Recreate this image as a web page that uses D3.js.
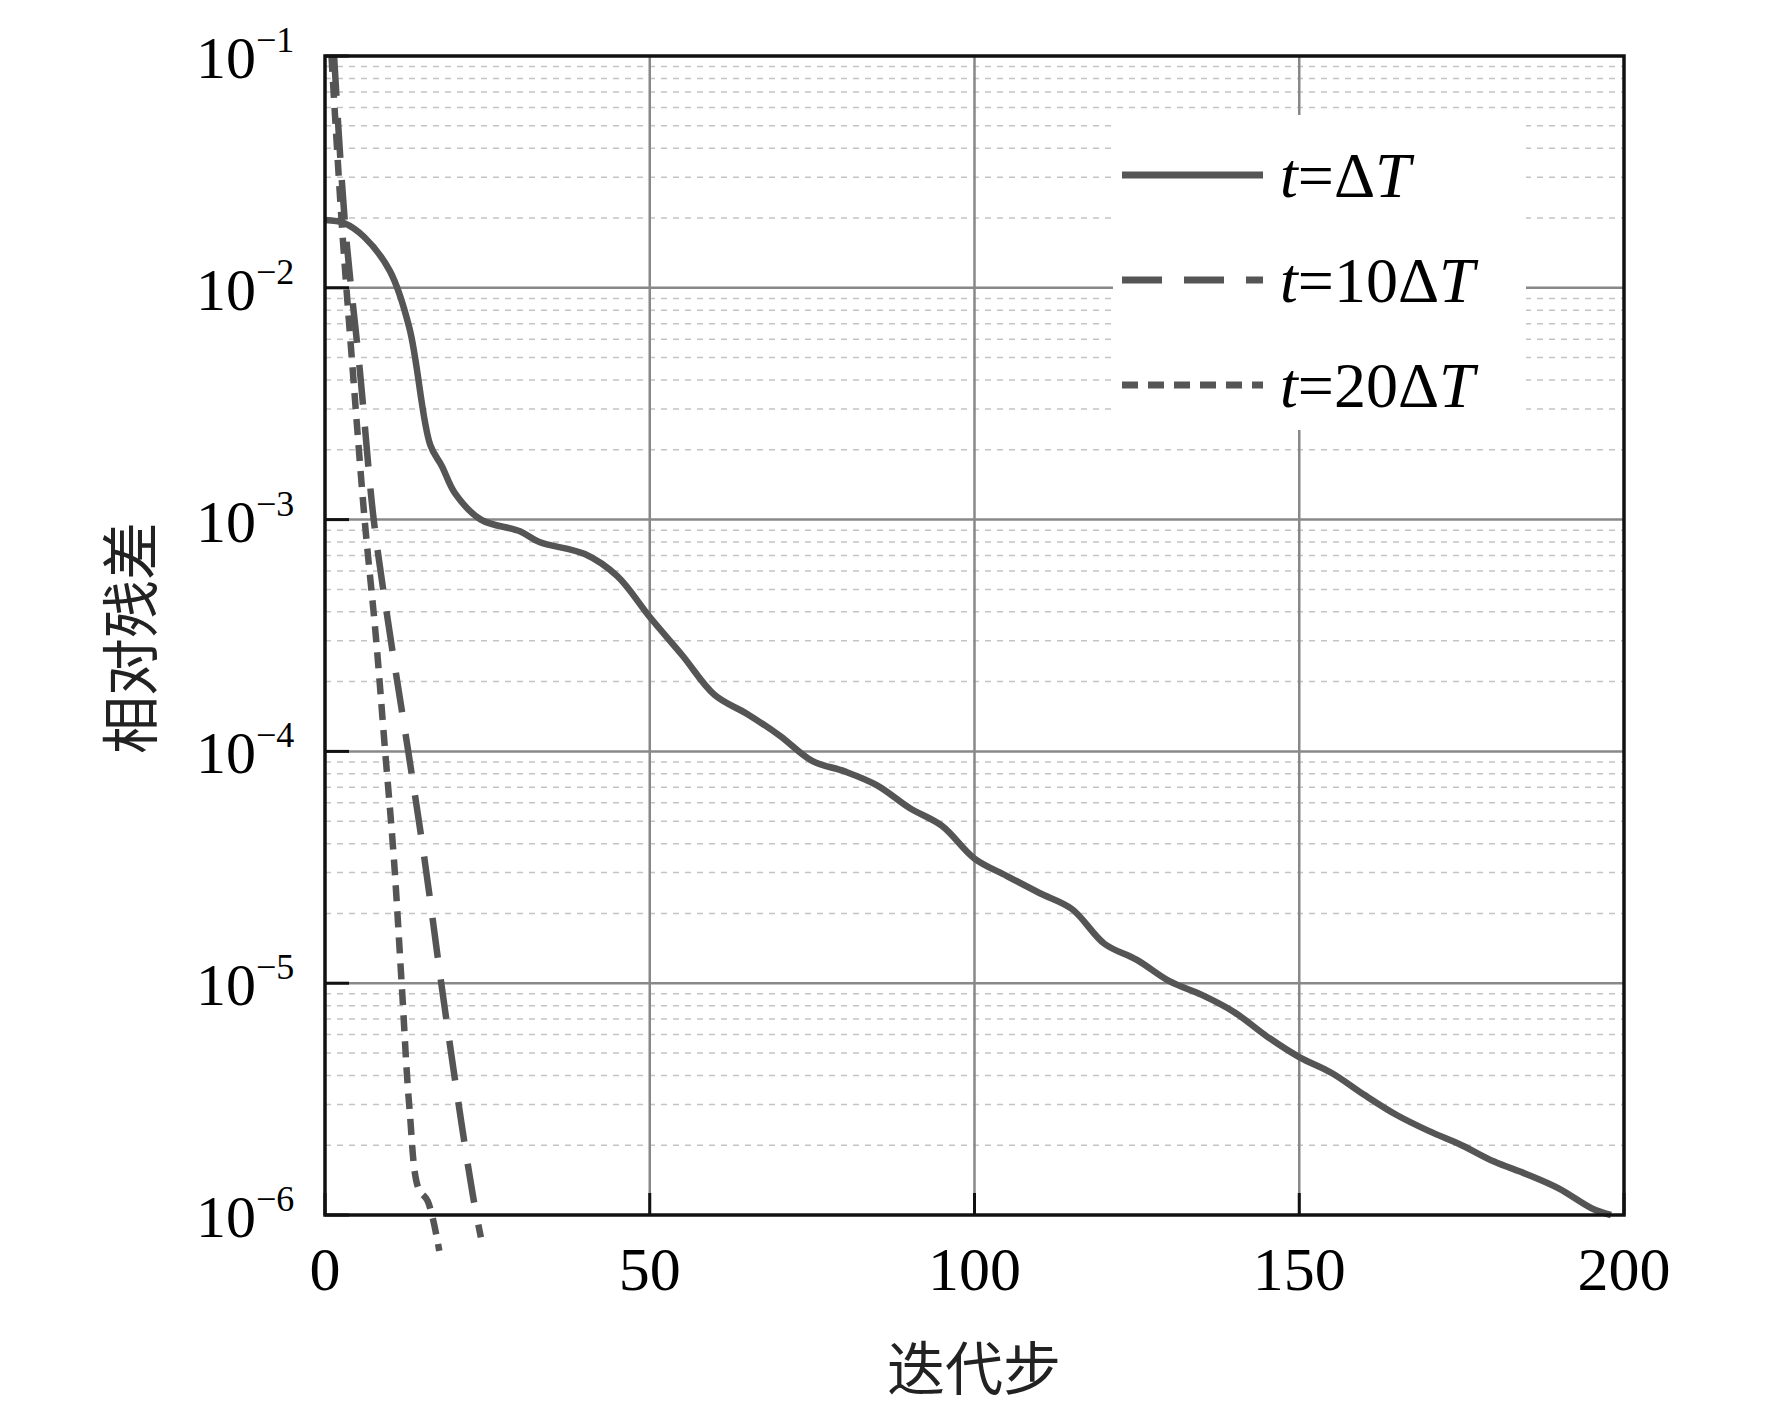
<!DOCTYPE html>
<html><head><meta charset="utf-8">
<script src="https://cdn.jsdelivr.net/npm/d3@7"></script>
<style>body{margin:0;background:#fff}</style>
</head><body>
<svg id="chart" width="1772" height="1410"></svg>
<script>
// series: [iteration, relative residual]
const seriesT1 = [[0,0.0196],[3,0.019],[6,0.0166],[10,0.0118],[13,0.0067],[16.2,0.0021],[18,0.0017],[20,0.0013],[24,0.001],[30,0.00089],[33,0.0008],[40,0.00071],[45,0.00057],[50,0.00038],[55,0.00026],[60,0.000175],[65,0.000145],[70,0.000117],[75,0.000091],[80,0.000082],[85,0.0000714],[90,0.000057],[95,0.0000477],[100,0.0000345],[105,0.000029],[110,0.0000245],[115,0.0000209],[120,0.0000148],[125,0.0000126],[130,0.0000102],[135,0.0000089],[140,0.0000075],[145,0.0000059],[150,0.0000048],[155,0.0000041],[160,0.0000033],[165,0.0000027],[170,0.0000023],[175,0.000002],[180,0.0000017],[185,0.0000015],[190,0.0000013],[195,0.00000107],[198,0.000001]];
const seriesT10 = [[1.4,0.1],[3.1,0.0186],[5.4,0.0043],[7.5,0.001],[10,0.00032],[12.7,0.000105],[15.3,0.0000346],[17.9,0.00001],[20.5,0.0000031],[22.8,0.0000012],[24,0.0000008]];
const seriesT20 = [[1,0.1],[2.6,0.0186],[4.3,0.0043],[6.1,0.001],[7.8,0.00032],[9.2,0.000105],[10.6,0.0000346],[11.8,0.00001],[13,0.0000029],[14.4,0.0000013],[15.8,0.00000115],[17.6,0.0000007]];
const xTicks = [0,50,100,150,200];
const yExps = [-1,-2,-3,-4,-5,-6];
const legendLabels = ["", "10", "20"];

const svg = d3.select("#chart");
const L = 325, R = 1624, T = 56, B = 1215;
const x = d3.scaleLinear().domain([0,200]).range([L,R]);
const y = d3.scaleLog().domain([1e-6,1e-1]).range([B,T]);
const grey = "#555";

// minor horizontal grid
const minors = [];
for (let e = -6; e < -1; e++) for (let m = 2; m <= 9; m++) minors.push(m * Math.pow(10, e));
svg.selectAll(".minor").data(minors).enter().append("line")
  .attr("x1", L).attr("x2", R).attr("y1", d => y(d)).attr("y2", d => y(d))
  .attr("stroke", "#c4c4c4").attr("stroke-width", 1.5).attr("stroke-dasharray", "6,6");

// major grid
svg.selectAll(".gx").data(xTicks.slice(1,-1)).enter().append("line")
  .attr("x1", d => x(d)).attr("x2", d => x(d)).attr("y1", T).attr("y2", B)
  .attr("stroke", "#888").attr("stroke-width", 2.5);
svg.selectAll(".gy").data(yExps.slice(1,-1)).enter().append("line")
  .attr("x1", L).attr("x2", R).attr("y1", d => y(Math.pow(10,d))).attr("y2", d => y(Math.pow(10,d)))
  .attr("stroke", "#888").attr("stroke-width", 2.5);

// legend box (covers grid)
svg.append("rect").attr("x", 1113).attr("y", 115).attr("width", 413).attr("height", 315).attr("fill", "#fff");

const line = d3.line().x(d => x(d[0])).y(d => y(d[1])).curve(d3.curveCatmullRom);
const styles = [
  {data: seriesT1, dash: null},
  {data: seriesT10, dash: "40,22"},
  {data: seriesT20, dash: "16,10"}
];
styles.forEach(s => {
  svg.append("path").attr("d", line(s.data))
    .attr("fill", "none").attr("stroke", grey).attr("stroke-width", 6.5)
    .attr("stroke-dasharray", s.dash);
});

// frame
svg.append("rect").attr("x", L).attr("y", T).attr("width", R-L).attr("height", B-T)
  .attr("fill", "none").attr("stroke", "#111").attr("stroke-width", 3.5);
// ticks
svg.selectAll(".ty").data(yExps).enter().append("line")
  .attr("x1", L).attr("x2", L+24).attr("y1", d => y(Math.pow(10,d))).attr("y2", d => y(Math.pow(10,d)))
  .attr("stroke", "#111").attr("stroke-width", 3);
svg.selectAll(".tx").data(xTicks).enter().append("line")
  .attr("x1", d => x(d)).attr("x2", d => x(d)).attr("y1", B).attr("y2", B-22)
  .attr("stroke", "#111").attr("stroke-width", 3);

const serif = "'Liberation Serif','Times New Roman',serif";
svg.selectAll(".lx").data(xTicks).enter().append("text")
  .attr("x", d => x(d)).attr("y", B+75).attr("text-anchor", "middle")
  .attr("font-family", serif).attr("font-size", 62).text(d => d);
const ly = svg.selectAll(".ly").data(yExps).enter().append("text")
  .attr("x", 196).attr("y", d => y(Math.pow(10,d)) + 22)
  .attr("font-family", serif).attr("font-size", 60);
ly.append("tspan").text("10");
ly.append("tspan").attr("dy", -26).attr("font-size", 36).text(d => "\u2212" + (-d));

const cjk = "'Noto Sans CJK SC',sans-serif";
svg.append("text").attr("transform", "translate(152,638) rotate(-90)")
  .attr("text-anchor", "middle").attr("font-family", cjk).attr("font-size", 58).attr("fill", "#222").text("相对残差");
svg.append("text").attr("x", 974).attr("y", 1390).attr("text-anchor", "middle")
  .attr("font-family", cjk).attr("font-size", 58).attr("fill", "#222").text("迭代步");

// legend
const lg = svg.selectAll(".lg").data(styles).enter().append("g")
  .attr("transform", (d,i) => `translate(0,${175 + i*105})`);
lg.append("line").attr("x1", 1122).attr("x2", 1263).attr("y1", 0).attr("y2", 0)
  .attr("stroke", grey).attr("stroke-width", 7).attr("stroke-dasharray", d => d.dash);
const lt = lg.append("text").attr("x", 1280).attr("y", 22).attr("font-family", serif).attr("font-size", 64);
lt.append("tspan").attr("font-style", "italic").text("t");
lt.append("tspan").text((d,i) => "=" + legendLabels[i] + "\u0394");
lt.append("tspan").attr("font-style", "italic").text("T");
</script>
</body></html>
